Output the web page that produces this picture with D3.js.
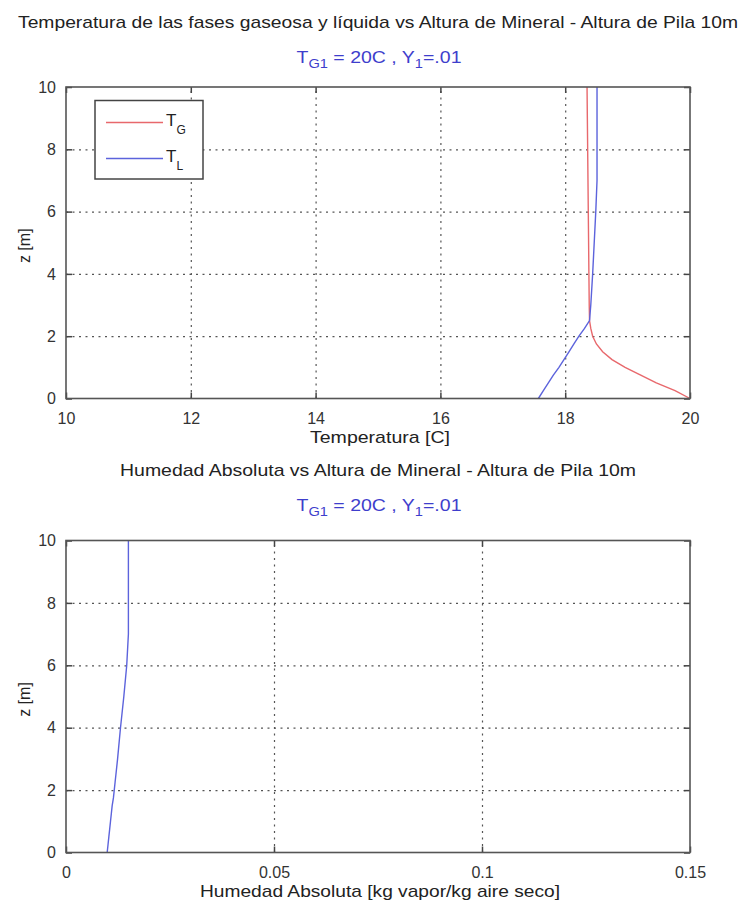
<!DOCTYPE html>
<html>
<head>
<meta charset="utf-8">
<script src="https://cdn.jsdelivr.net/npm/d3@7/dist/d3.min.js"></script>
<style>
  body { margin: 0; background: #fff; }
  svg { display: block; font-family: "Liberation Sans", Arial, sans-serif; }
</style>
</head>
<body>
<svg id="chart" width="743" height="905"></svg>
<script>
// ---------- data ----------
const zValues = [0, 0.25, 0.5, 0.75, 1, 1.25, 1.5, 1.75, 2, 2.25, 2.5, 3, 4, 5, 6, 7, 8, 9, 10];
const tempGas = [20.0, 19.76, 19.46, 19.21, 18.96, 18.75, 18.60, 18.50, 18.44, 18.41, 18.39, 18.385, 18.38, 18.375, 18.37, 18.365, 18.36, 18.355, 18.35];
const tempLiq = [17.57, 17.65, 17.73, 17.81, 17.90, 17.98, 18.06, 18.14, 18.22, 18.31, 18.39, 18.41, 18.44, 18.465, 18.49, 18.51, 18.51, 18.51, 18.51];
const humidity = [0.0099, 0.0101, 0.0103, 0.0105, 0.0107, 0.0109, 0.0111, 0.0114, 0.0116, 0.0118, 0.0120, 0.0124, 0.0131, 0.0139, 0.0146, 0.0150, 0.0150, 0.0150, 0.0150];

const tempTicks = [10, 12, 14, 16, 18, 20];
const humTicks = [0, 0.05, 0.1, 0.15];
const humTickLabels = ["0", "0.05", "0.1", "0.15"];
const zTicks = [0, 2, 4, 6, 8, 10];

const title1 = "Temperatura de las fases gaseosa y líquida vs Altura de Mineral - Altura de Pila 10m";
const title2 = "Humedad Absoluta vs Altura de Mineral - Altura de Pila 10m";
const xLabel1 = "Temperatura [C]";
const xLabel2 = "Humedad Absoluta [kg vapor/kg aire seco]";
const yLabel = "z [m]";
const legendItems = [{main: "T", sub: "G", color: "#e8686c"}, {main: "T", sub: "L", color: "#5c63dc"}];

// ---------- layout ----------
const svg = d3.select("#chart");
const left = 66, right = 690;
const TEXT = "#222";
const SUBT = "#3e3ecc";
const GRID = "#555";

function subtitle(g, cx, baseline) {
  const t = g.append("text").attr("x", cx).attr("y", baseline)
    .attr("text-anchor", "middle").attr("fill", SUBT).attr("font-size", 16)
    .attr("textLength", 165).attr("lengthAdjust", "spacingAndGlyphs");
  t.append("tspan").text("T");
  t.append("tspan").attr("font-size", 12).attr("dy", 5).text("G1");
  t.append("tspan").attr("dy", -5).text(" = 20C , Y");
  t.append("tspan").attr("font-size", 12).attr("dy", 5).text("1");
  t.append("tspan").attr("dy", -5).text("=.01");
}

function panel(cfg) {
  const g = svg.append("g");
  const x = d3.scaleLinear().domain(cfg.xDomain).range([left, right]);
  const y = d3.scaleLinear().domain([0, 10]).range([cfg.bottom, cfg.top]);
  const h = cfg.bottom - cfg.top, w = right - left;

  // grid
  const gx = g.append("g").attr("transform", `translate(0,${cfg.bottom})`)
    .call(d3.axisBottom(x).tickValues(cfg.xTicks.slice(1, -1)).tickSize(-h).tickFormat(""));
  const gy = g.append("g").attr("transform", `translate(${left},0)`)
    .call(d3.axisLeft(y).tickValues(zTicks.slice(1, -1)).tickSize(-w).tickFormat(""));
  [gx, gy].forEach(a => {
    a.select(".domain").remove();
    a.selectAll("line").attr("stroke", GRID).attr("stroke-width", 1.2).attr("stroke-dasharray", "2,4.5");
  });

  // lines
  const line = d3.line().x(d => x(d[0])).y(d => y(d[1]));
  cfg.series.forEach(s => {
    g.append("path").datum(s.values.map((v, i) => [v, zValues[i]]))
      .attr("d", line).attr("fill", "none").attr("stroke", s.color).attr("stroke-width", 1.4);
  });

  // inward ticks on all sides
  const ax = [
    g.append("g").attr("transform", `translate(0,${cfg.bottom})`).call(d3.axisBottom(x).tickValues(cfg.xTicks).tickSize(-6).tickFormat((d, i) => cfg.xLabels[i]).tickPadding(14)),
    g.append("g").attr("transform", `translate(0,${cfg.top})`).call(d3.axisTop(x).tickValues(cfg.xTicks).tickSize(-6).tickFormat("")),
    g.append("g").attr("transform", `translate(${left},0)`).call(d3.axisLeft(y).tickValues(zTicks).tickSize(-6).tickPadding(10)),
    g.append("g").attr("transform", `translate(${right},0)`).call(d3.axisRight(y).tickValues(zTicks).tickSize(-6).tickFormat(""))
  ];
  ax.forEach(a => {
    a.select(".domain").remove();
    a.selectAll("line").attr("stroke", "#444").attr("stroke-width", 1.5);
    a.selectAll("text").attr("fill", "#333").attr("font-size", 16).attr("font-family", "Liberation Sans, Arial, sans-serif");
  });
  ax[0].selectAll("text").attr("dy", "0.71em");

  // box
  g.append("rect").attr("x", left).attr("y", cfg.top).attr("width", w).attr("height", h)
    .attr("fill", "none").attr("stroke", "#555").attr("stroke-width", 1.6);

  // titles / labels
  g.append("text").attr("x", 378).attr("y", cfg.titleY).attr("text-anchor", "middle")
    .attr("fill", TEXT).attr("font-size", 17).attr("textLength", cfg.titleLen)
    .attr("lengthAdjust", "spacingAndGlyphs").text(cfg.title);
  subtitle(g, 379, cfg.titleY + 35);
  g.append("text").attr("x", 380).attr("y", cfg.xLabelY).attr("text-anchor", "middle")
    .attr("fill", TEXT).attr("font-size", 17).attr("textLength", cfg.xLabelLen)
    .attr("lengthAdjust", "spacingAndGlyphs").text(cfg.xLabel);
  g.append("text").attr("transform", `translate(30,${(cfg.top + cfg.bottom) / 2 + 3}) rotate(-90)`)
    .attr("text-anchor", "middle").attr("fill", TEXT).attr("font-size", 16).text(yLabel);

  return {g, x, y};
}

const p1 = panel({
  top: 87, bottom: 398.5, xDomain: [10, 20], xTicks: tempTicks, xLabels: tempTicks.map(String),
  series: [{values: tempGas, color: legendItems[0].color}, {values: tempLiq, color: legendItems[1].color}],
  title: title1, titleY: 28, titleLen: 720, xLabel: xLabel1, xLabelY: 443, xLabelLen: 140
});

const p2 = panel({
  top: 540.5, bottom: 852.5, xDomain: [0, 0.15], xTicks: humTicks, xLabels: humTickLabels,
  series: [{values: humidity, color: legendItems[1].color}],
  title: title2, titleY: 476, titleLen: 516, xLabel: xLabel2, xLabelY: 897, xLabelLen: 360
});

// legend
const lg = p1.g.append("g");
lg.append("rect").attr("x", 95).attr("y", 100.5).attr("width", 108).attr("height", 78.5)
  .attr("fill", "#fff").attr("stroke", "#444").attr("stroke-width", 1.5);
legendItems.forEach((it, i) => {
  const yy = 122.5 + i * 36;
  lg.append("line").attr("x1", 106).attr("x2", 163).attr("y1", yy).attr("y2", yy)
    .attr("stroke", it.color).attr("stroke-width", 1.4);
  const t = lg.append("text").attr("x", 166).attr("y", yy + 3).attr("fill", TEXT).attr("font-size", 17);
  t.append("tspan").text(it.main);
  t.append("tspan").attr("font-size", 12).attr("dy", 8).text(it.sub);
});
</script>
</body>
</html>
